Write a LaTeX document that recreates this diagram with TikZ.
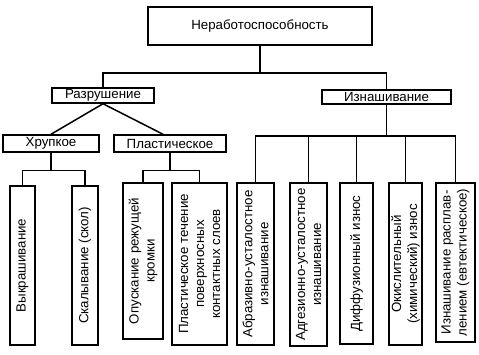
\documentclass[tikz,border=0pt]{standalone}
\usepackage{fontspec}
\setmainfont{Liberation Sans}
\usetikzlibrary{positioning}
\tikzset{
  box/.style ={draw, line width=1.5pt, align=center, inner sep=0.5pt,
               font=\fontsize{13.3}{16}\selectfont},
  vbox/.style={box, rotate=90},
  link/.style={line width=1.5pt},
}

\begin{document}
\begin{tikzpicture}[x=1pt, y=-1pt]
  \useasboundingbox (0,0) rectangle (479,354);
  % верхние уровни
  \node[box, minimum width=224pt, minimum height=38pt] (neg)   at (260,26)    {Неработоспособность};
  \node[box, minimum width=102pt, minimum height=15pt] (razr)  at (103,95.5)  {Разрушение};
  \node[box, minimum width=129pt, minimum height=14pt] (izn)   at (386.5,97)  {Изнашивание};
  \node[box, minimum width=96pt,  minimum height=17pt] (hrup)  at (51,143.5)  {Хрупкое};
  \node[box, minimum width=112pt, minimum height=17pt] (plast) at (170,143.5) {Пластическое};
  % нижний уровень (повернутые)
  \node[vbox, minimum width=159pt, minimum height=25pt] (b1) at (22.5,265.5) {Выкрашивание};
  \node[vbox, minimum width=159pt, minimum height=26pt] (b2) at (85,265.5)   {Скалывание (скол)};
  \node[vbox, minimum width=156pt, minimum height=40pt] (b3) at (143,261)    {Опускание режущей\\кромки};
  \node[vbox, minimum width=162pt, minimum height=55pt] (b4) at (199.5,264)  {Пластическое течение\\поверхносных\\контактных слоев};
  \node[vbox, minimum width=162pt, minimum height=37pt] (b5) at (255.5,264)  {Абразивно-усталостное\\изнашивание};
  \node[vbox, minimum width=163pt, minimum height=37pt] (b6) at (308.5,264.5){Адгезионно-усталостное\\изнашивание};
  \node[vbox, minimum width=161pt, minimum height=33pt] (b7) at (356.5,263.5){Диффузионный износ};
  \node[vbox, minimum width=162pt, minimum height=33pt] (b8) at (405.5,264)  {Окислительный\\(химический) износ};
  \node[vbox, minimum width=159pt, minimum height=39pt] (b9) at (455.5,262.5){Изнашивание расплав-\\лением (евтектическое)};
  % связи
  \draw[link] (neg.south) -- ++(0,27) coordinate (nb);
  \draw[link] (razr.north) |- (nb) -| (izn.north);
  \draw[link] (razr.south) -- (hrup.north);
  \draw[link] (razr.south) -- ([xshift=-7pt]plast.north);
  \draw[link] (hrup.south) -- ++(0,17.5) coordinate (hb);
  \draw[link] (b1.east) |- (hb) -| (b2.east);
  \draw[link] (plast.south) -- ++(0,17.5) coordinate (pb);
  \draw[link] (b3.east) |- (pb) -| (b4.east);
  \draw[link] (izn.south) -- ++(0,31) coordinate (ib);
  \draw[link] (b5.east) |- (ib) -| (b9.east);
  \foreach \b in {b6,b7,b8}
    \draw[link] (\b.east) -- (\b.east |- ib);
\end{tikzpicture}
\end{document}
